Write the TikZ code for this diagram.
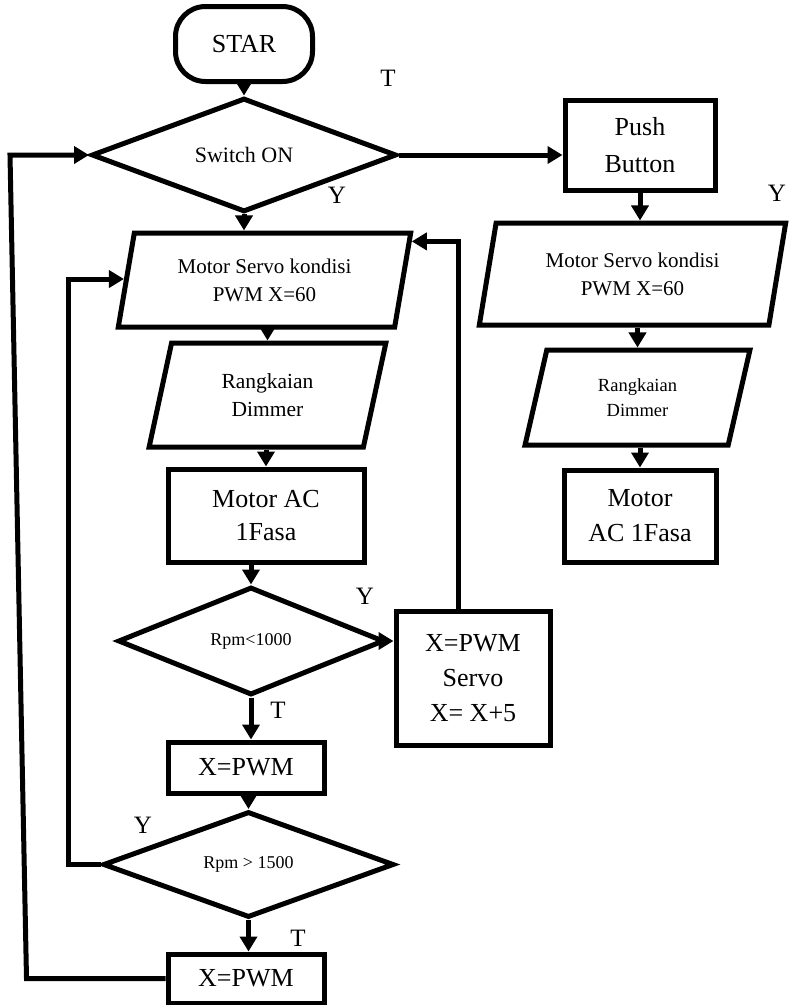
\documentclass[tikz,border=0pt]{standalone}
\usepackage{fontspec}
\setmainfont{Liberation Serif}
\usetikzlibrary{shapes.geometric,arrows.meta,positioning,calc}

\newcommand{\setfs}[2]{\fontsize{#1}{#2}\selectfont}

\begin{document}
\begin{tikzpicture}[line width=5pt,
    startstop/.style={rectangle, rounded corners=30pt, draw, minimum width=137pt, minimum height=75pt, font=\setfs{26}{30}},
    decision/.style={diamond, draw, inner sep=0pt, align=center},
    io/.style={trapezium, trapezium left angle=76, trapezium right angle=104, trapezium stretches=true, draw, inner sep=0pt, align=center},
    process/.style={rectangle, draw, inner sep=0pt, align=center},
    arr/.style={-{Triangle[length=15pt,width=17pt]}},
    yt/.style={font=\setfs{25}{28}}]
    \useasboundingbox (0pt,0pt) rectangle (788pt,-1005pt);

    % main column
    \node (star) [startstop] at (244pt,-44pt) {STAR};
    \node (sw) [decision, node distance=111pt, below of=star, minimum width=305pt, minimum height=100pt, font=\setfs{22}{26}] {Switch ON};
    \node (servoL) [io, node distance=125pt, below of=sw, xshift=20.5pt, minimum width=293pt, minimum height=94pt, font=\setfs{21}{28}] {Motor Servo kondisi\\PWM X=60};
    \node (dimL) [io, node distance=115pt, below of=servoL, xshift=3pt, minimum width=237pt, minimum height=104pt, font=\setfs{21.5}{28}] {Rangkaian\\Dimmer};
    \node (motorL) [process, node distance=120.5pt, below of=dimL, xshift=-1.5pt, minimum width=196pt, minimum height=93pt, font=\setfs{26}{33}] {Motor AC\\1Fasa};
    \node (lt) [decision, node distance=125.5pt, below of=motorL, xshift=-15pt, minimum width=266pt, minimum height=108pt, font=\setfs{18}{22}] {Rpm<1000};
    \node (pwm1) [process, node distance=126.5pt, below of=lt, xshift=-5pt, minimum width=156pt, minimum height=51pt, font=\setfs{26}{30}] {X=PWM};
    \node (gt) [decision, node distance=97pt, below of=pwm1, xshift=2.5pt, minimum width=291pt, minimum height=95pt, font=\setfs{18}{22}] {Rpm > 1500};
    \node (pwm2) [process, node distance=114pt, below of=gt, xshift=-2.5pt, minimum width=156pt, minimum height=49pt, font=\setfs{26}{30}] {X=PWM};
    \node (incbox) [process, node distance=222pt, right of=lt, yshift=-37pt, minimum width=154pt, minimum height=134pt, font=\setfs{26}{35}] {X=PWM\\Servo\\X= X+5};

    % right column
    \node (push) [process, node distance=396pt, right of=sw, yshift=10pt, minimum width=150pt, minimum height=90pt, font=\setfs{26}{37}] {Push\\Button};
    \node (servoR) [io, node distance=129pt, below of=push, xshift=-7.5pt, minimum width=307pt, minimum height=102pt, font=\setfs{21}{28}] {Motor Servo kondisi\\PWM X=60};
    \node (dimR) [io, node distance=123.5pt, below of=servoR, xshift=5pt, minimum width=227pt, minimum height=95pt, font=\setfs{18.5}{25}] {Rangkaian\\Dimmer};
    \node (motorR) [process, node distance=118.5pt, below of=dimR, xshift=2.5pt, minimum width=152pt, minimum height=92pt, font=\setfs{26}{35}] {Motor\\AC 1Fasa};

    % labels
    \node (t1) [yt] at (388pt,-78pt) {T};
    \node (y1) [yt] at (337pt,-195pt) {Y};
    \node (y2) [yt] at (777pt,-193pt) {Y};
    \node (y3) [yt] at (365pt,-596pt) {Y};
    \node (t2) [yt] at (278pt,-710pt) {T};
    \node (y4) [yt] at (143pt,-825pt) {Y};
    \node (t3) [yt] at (298pt,-938pt) {T};

    \draw[arr] (star.south -| sw.north) -- (sw.north);
    \draw[arr] (sw.east) -- (sw.east -| push.west);
    \draw[arr] (sw.south) -- (sw.south |- servoL.north);
    \draw[arr] (servoL.south -| dimL.north) -- (dimL.north);
    \draw[arr] (dimL.south -| motorL.north) -- (motorL.north);
    \draw[arr] (motorL.south -| lt.north) -- (lt.north);
    \draw[arr] (lt.east) -- (lt.east -| incbox.west);
    \draw[arr] (lt.south) -- (lt.south |- pwm1.north);
    \draw[arr] (pwm1.south -| gt.north) -- (gt.north);
    \draw[arr] (gt.south) -- (gt.south |- pwm2.north);

    \draw[arr] (push.south) -- (push.south |- servoR.north);
    \draw[arr] (servoR.south -| dimR.north) -- (dimR.north);
    \draw[arr] (dimR.south -| motorR.north) -- (motorR.north);

    % loops back
    \draw[arr] ([xshift=-15pt]incbox.north) |- ($(servoL.top right corner)!0.11!(servoL.bottom right corner)$);
    \draw[arr] (gt.west) -- ++(-32pt,0) |- ($(servoL.top left corner)!0.49!(servoL.bottom left corner)$);
    \coordinate (loopTL) at (10pt,-155pt);
    \draw[arr] (pwm2.west) -- ++(-139pt,0) -- (loopTL) -- (sw.west);
\end{tikzpicture}
\end{document}
